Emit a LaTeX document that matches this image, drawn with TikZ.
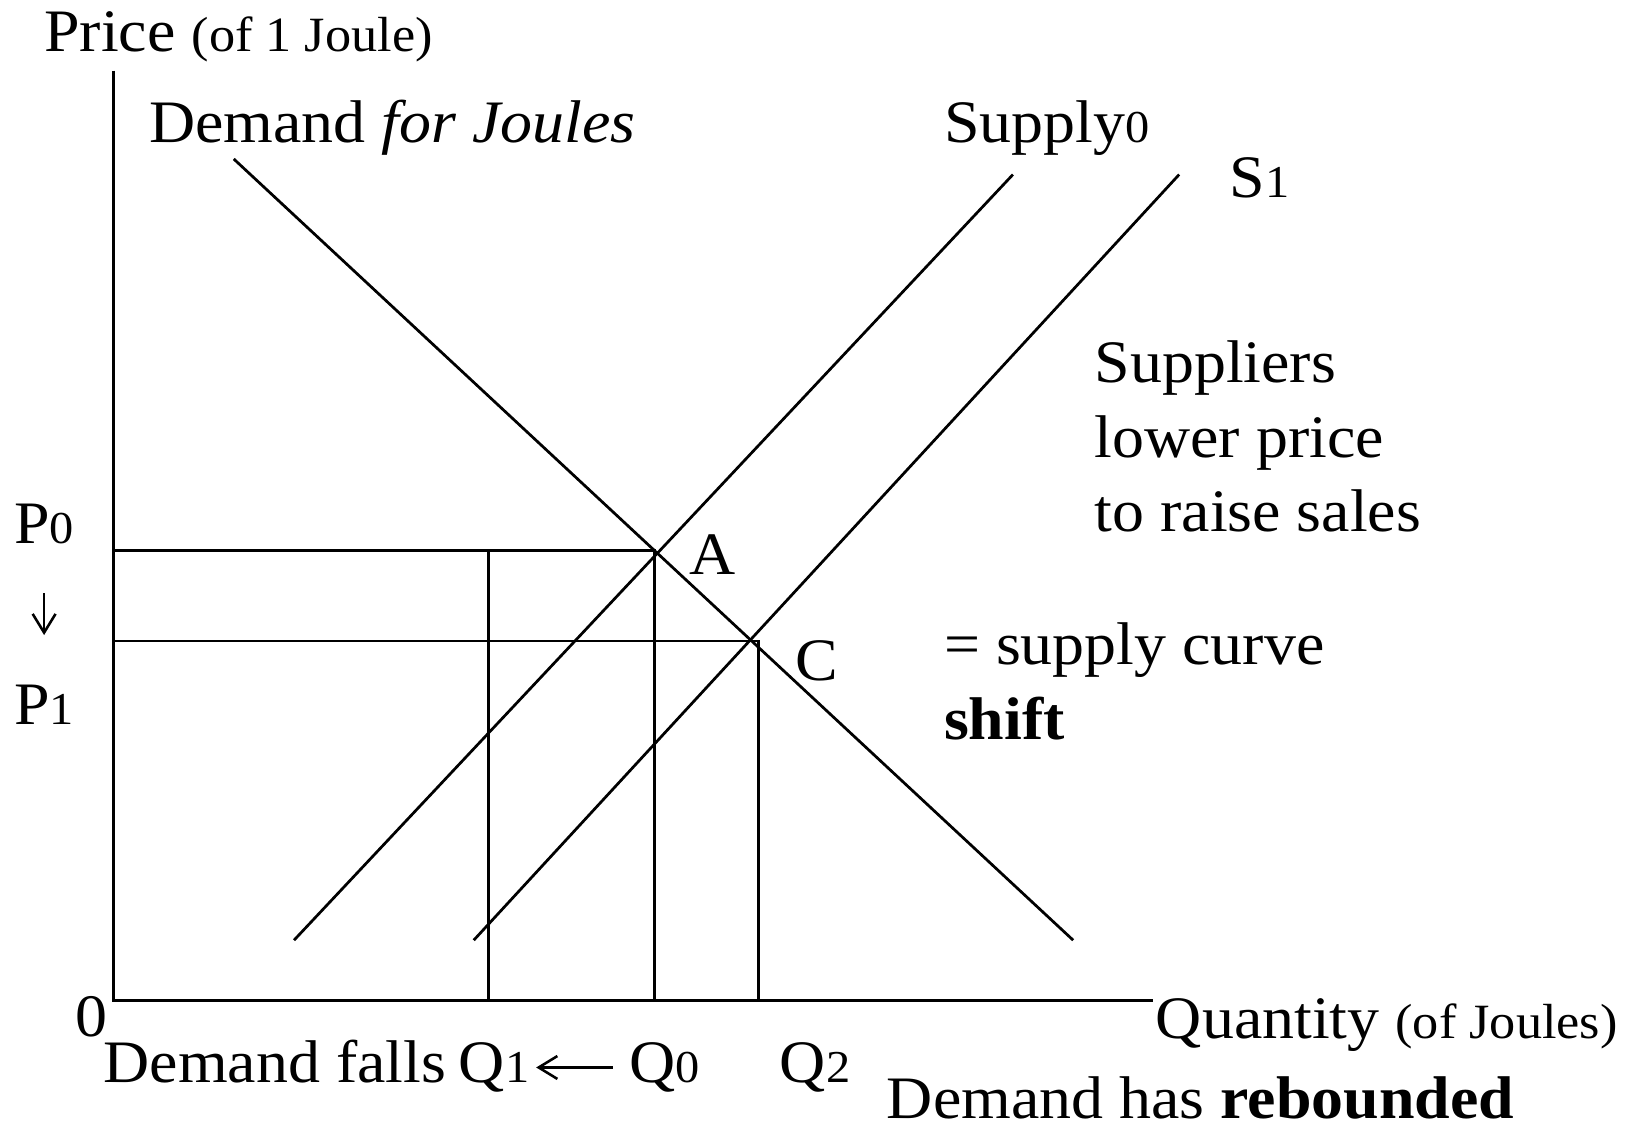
\documentclass[tikz,border=0pt]{standalone}
\usepackage{fontspec}
\setmainfont[FakeStretch=1.06]{Liberation Serif}
\usetikzlibrary{arrows.meta}
\newcommand\smtext{\fontsize{13.5}{16}\selectfont}
\newcommand\dg[1]{{\fontsize{12.5}{15}\selectfont #1}}
\begin{document}
\begin{tikzpicture}[
  x=0.01cm,
  y=-0.01cm,
  font=\fontsize{16.5}{20}\selectfont,
  lbl/.style={anchor=base west, inner sep=0pt},
  curve/.style={line width=0.75pt},
  guide/.style={line width=0.75pt},
  axis/.style={line width=0.9pt},
  tip/.style={line width=0.7pt, -{Straight Barb[length=1.8mm,width=2.2mm]}}
]
\useasboundingbox (0,0) rectangle (1568,1087);

% axes
\coordinate (O) at (109,963);
\coordinate (ytop) at (109,68);
\coordinate (xend) at (1110,963);
\draw[axis] (ytop) -- (O) -- (xend);
\node[lbl] (price) at (42,50) {Price {\smtext (of 1 Joule)}};
\node[lbl] (qty) at (1112,1000) {Quantity {\smtext (of Joules)}};
\node[lbl] (zero) at (72,998) {0};

% demand and the two supply curves
\coordinate (dtop) at (225,153);
\coordinate (dbot) at (1033,905);
\coordinate (s0bot) at (283,905);
\coordinate (s0top) at (975,168);
\coordinate (s1bot) at (456,905);
\coordinate (s1top) at (1135,168);
\draw[curve] (dtop) -- (dbot);
\draw[curve] (s0bot) -- (s0top);
\draw[curve] (s1bot) -- (s1top);
\node[lbl] (dlab) at (143,137) {Demand \textit{for Joules}};
\node[lbl] (s0lab) at (908,137) {Supply\dg{0}};
\node[lbl] (s1lab) at (1183,190) {S\dg{1}};

% price / quantity guides
\coordinate (pA) at (630,530);
\coordinate (pC) at (730,617);
\coordinate (p0y) at (109,530);
\coordinate (p1y) at (109,617);
\coordinate (q1top) at (470,530);
\coordinate (q1bot) at (470,963);
\coordinate (q0bot) at (630,963);
\coordinate (q2bot) at (730,963);
\draw[guide] (p0y) -- (pA) -- (q0bot);
\draw[guide] (p1y) -- (pC) -- (q2bot);
\draw[guide] (q1top) -- (q1bot);
\node[lbl] (A) at (663,553) {A};
\node[lbl] (C) at (765,655) {C};

% price labels
\node[lbl] (P0) at (13,523) {P\dg{0}};
\node[lbl] (P1) at (13,697) {P\dg{1}};
\draw[tip, shorten <=0.47cm, shorten >=0.47cm] (P0.south) -- (P1.north);

% quantity labels
\node[lbl] (falls) at (99,1042) {Demand falls};
\node[lbl] (Q1) at (441,1042) {Q\dg{1}};
\node[lbl] (Q0) at (605,1042) {Q\dg{0}};
\node[lbl] (Q2) at (750,1042) {Q\dg{2}};
\draw[tip, shorten <=0.15cm, shorten >=0.06cm] (Q0.west) -- (Q1.east);
\node[lbl] (rebound) at (853,1077) {Demand has \textbf{rebounded}};

% notes
\node[lbl] (sup1) at (1053,368) {Suppliers};
\node[lbl] (sup2) at (1053,440) {lower price};
\node[lbl] (sup3) at (1053,512) {to raise sales};
\node[lbl] (shift1) at (908,640) {= supply curve};
\node[lbl] (shift2) at (908,712) {\textbf{shift}};
\end{tikzpicture}
\end{document}
